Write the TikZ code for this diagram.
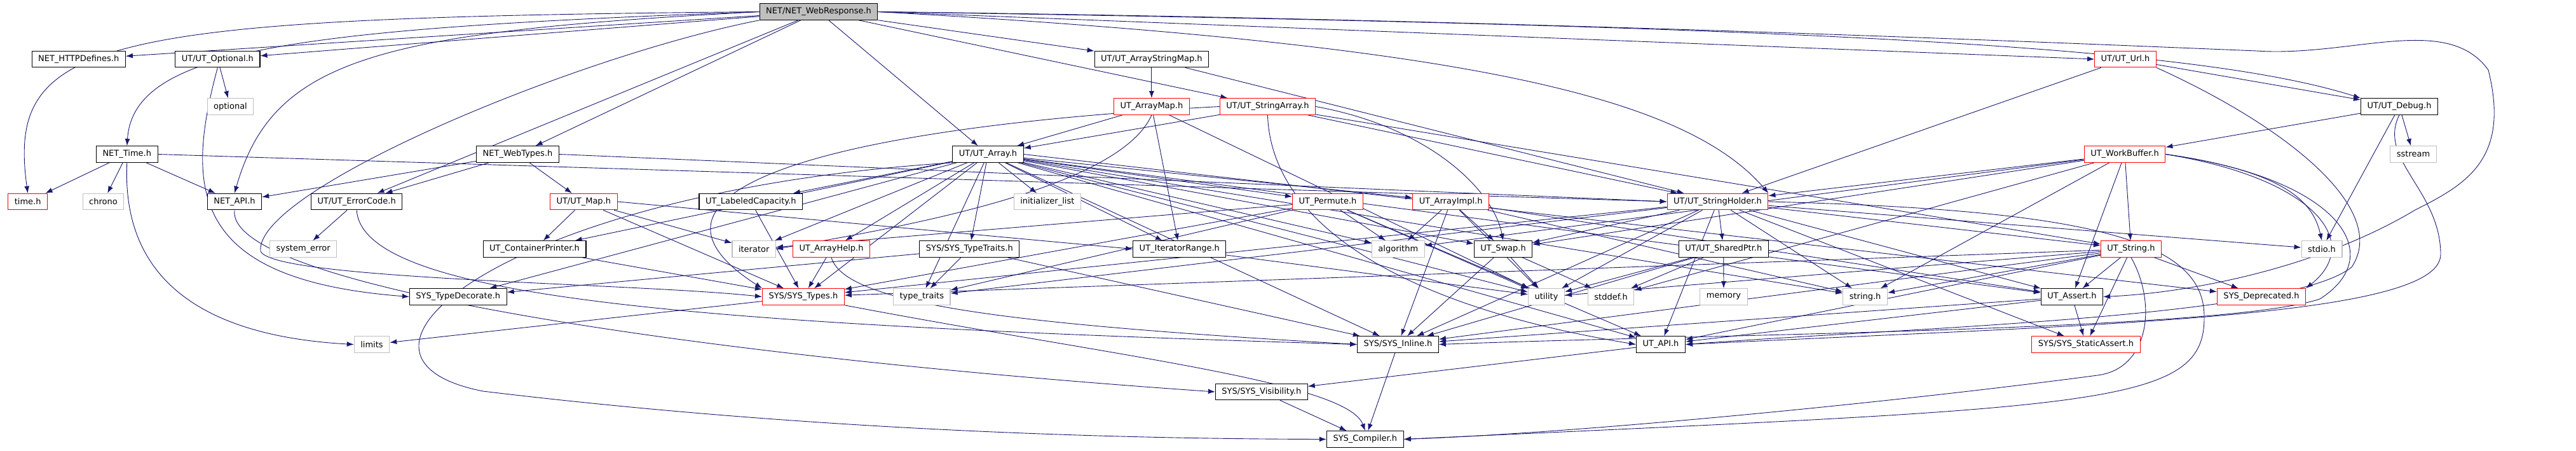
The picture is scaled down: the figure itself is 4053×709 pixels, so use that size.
\documentclass[tikz,border=0pt]{standalone}
\usepackage{fontspec}
\setmainfont{DejaVu Sans}
\usetikzlibrary{arrows.meta, backgrounds}
\definecolor{edgeblue}{HTML}{191970}
\definecolor{truncred}{HTML}{FF0000}
\definecolor{sysgray}{HTML}{BFBFBF}

\begin{document}
\begin{tikzpicture}[x=1pt, y=-1pt,
  hdr/.style={draw=black, line width=1.1pt, fill=white, inner xsep=10pt, inner ysep=0pt,
              minimum height=25.5pt, font=\fontsize{13}{15}\selectfont},
  trunc/.style={hdr, draw=truncred},
  sysh/.style={hdr, draw=sysgray},
  rootbox/.style={hdr, fill=sysgray},
  dep/.style={->, line width=0.9pt, draw=edgeblue, >={Latex[length=11pt,width=8pt]}}]
\useasboundingbox (0,0) rectangle (4053,709);
% headers, row by row
\node[rootbox] (root) at (1288,18.5) {NET/NET\_WebResponse.h};
\node[hdr] (http) at (123.7,93) {NET\_HTTPDefines.h};
\node[hdr] (opt) at (342.4,93) {UT/UT\_Optional.h};
\node[hdr] (asmap) at (1811.9,93) {UT/UT\_ArrayStringMap.h};
\node[trunc] (url) at (3344,93) {UT/UT\_Url.h};
\node[sysh] (optional) at (362.5,167.5) {optional};
\node[trunc] (amap) at (1811.9,167.5) {UT\_ArrayMap.h};
\node[trunc] (sarr) at (1994.4,167.5) {UT/UT\_StringArray.h};
\node[hdr] (debug) at (3775,167.5) {UT/UT\_Debug.h};
\node[hdr] (nettime) at (199.8,242.5) {NET\_Time.h};
\node[hdr] (webtypes) at (814.5,242.5) {NET\_WebTypes.h};
\node[hdr] (array) at (1554.5,242.5) {UT/UT\_Array.h};
\node[trunc] (wbuf) at (3343,242.5) {UT\_WorkBuffer.h};
\node[sysh] (sstream) at (3797,242.5) {sstream};
\node[trunc] (timeh) at (43.7,317) {time.h};
\node[sysh] (chrono) at (162.5,317) {chrono};
\node[hdr] (netapi) at (369,317) {NET\_API.h};
\node[hdr] (errcode) at (561.2,317) {UT/UT\_ErrorCode.h};
\node[trunc] (map) at (918.3,317) {UT/UT\_Map.h};
\node[hdr] (labcap) at (1181.3,317) {UT\_LabeledCapacity.h};
\node[sysh] (initl) at (1647.8,317) {initializer\_list};
\node[trunc] (permute) at (2089,317) {UT\_Permute.h};
\node[trunc] (aimpl) at (2282.6,317) {UT\_ArrayImpl.h};
\node[trunc] (sholder) at (2702.5,317) {UT/UT\_StringHolder.h};
\node[sysh] (syserr) at (477.2,391.5) {system\_error};
\node[hdr] (cprint) at (841,391.5) {UT\_ContainerPrinter.h};
\node[sysh] (iter) at (1186.2,391.5) {iterator};
\node[trunc] (ahelp) at (1308,391.5) {UT\_ArrayHelp.h};
\node[hdr] (ttraits) at (1525.3,391.5) {SYS/SYS\_TypeTraits.h};
\node[hdr] (itrange) at (1855.8,391.5) {UT\_IteratorRange.h};
\node[sysh] (algo) at (2199.8,391.5) {algorithm};
\node[hdr] (swap) at (2365,391.5) {UT\_Swap.h};
\node[hdr] (sptr) at (2711.8,391.5) {UT/UT\_SharedPtr.h};
\node[trunc] (ustring) at (3353,391.5) {UT\_String.h};
\node[sysh] (stdio) at (3653,391.5) {stdio.h};
\node[hdr] (tdecor) at (720.8,466.5) {SYS\_TypeDecorate.h};
\node[trunc] (systypes) at (1263.9,466.5) {SYS/SYS\_Types.h};
\node[sysh] (typetr) at (1450.3,466.5) {type\_traits};
\node[sysh] (utility) at (2433,466.5) {utility};
\node[sysh] (stddef) at (2534.6,466.5) {stddef.h};
\node[sysh] (memory) at (2712,466.5) {memory};
\node[sysh] (stringh) at (2934.6,466.5) {string.h};
\node[hdr] (assert) at (3260,466.5) {UT\_Assert.h};
\node[trunc] (deprec) at (3558,466.5) {SYS\_Deprecated.h};
\node[sysh] (limits) at (585,541.5) {limits};
\node[hdr] (inline) at (2199.5,541.5) {SYS/SYS\_Inline.h};
\node[hdr] (api) at (2613,541.5) {UT\_API.h};
\node[trunc] (sassert) at (3282,541.5) {SYS/SYS\_StaticAssert.h};
\node[hdr] (visib) at (1984.8,616) {SYS/SYS\_Visibility.h};
\node[hdr] (compiler) at (2147.8,690.5) {SYS\_Compiler.h};
% includes
\begin{scope}[on background layer]
\draw[dep] (root.west) .. controls (150,28) and (10,60) .. (timeh.north);
\draw[dep] (root) -- (http);
\draw[dep] (root) -- (opt);
\draw[dep] (root.west) .. controls (450,45) and (210,80) .. (nettime.north);
\draw[dep] (root.west) .. controls (600,50) and (430,90) .. (netapi.north);
\draw[dep] (root) -- (errcode);
\draw[dep] (root) -- (webtypes);
\draw[dep] (root) -- (array);
\draw[dep] (root) -- (asmap);
\draw[dep] (root) -- (sarr);
\draw[dep] (root.east) .. controls (2300,70) and (2650,150) .. (sholder.north east);
\draw[dep] (root.east) -- (url.west);
\draw[dep] (root.east) .. controls (2800,40) and (3450,70) .. (debug.north west);
\draw[dep] (root.east) .. controls (2400,30) and (3300,70) .. (3550,80) .. controls (3700,90) and (3850,20) .. (3915,110) .. controls (3950,250) and (3880,290) .. (3800,330) .. controls (3650,420) and (3450,460) .. (assert.east);
\draw[dep] (root.south west) .. controls (900,90) and (400,300) .. (410,395) .. controls (430,440) and (1000,445) .. (systypes.west);
\draw[dep] (opt) -- (optional);
\draw[dep] (opt.south) .. controls (290,300) and (300,440) .. (tdecor.west);
\draw[dep] (nettime) -- (timeh);
\draw[dep] (nettime) -- (chrono);
\draw[dep] (nettime) -- (netapi);
\draw[dep] (nettime.south) .. controls (190,460) and (350,530) .. (limits.west);
\draw[dep] (nettime.east) -- (sholder.west);
\draw[dep] (webtypes) -- (netapi);
\draw[dep] (webtypes) -- (errcode);
\draw[dep] (webtypes) -- (map);
\draw[dep] (webtypes.east) -- (sholder.west);
\draw[dep] (errcode) -- (syserr);
\draw[dep] (errcode.south) .. controls (570,470) and (1100,510) .. (inline.west);
\draw[dep] (netapi.south) .. controls (355,450) and (1100,560) .. (visib.west);
\draw[dep] (map) -- (cprint);
\draw[dep] (map) -- (systypes);
\draw[dep] (map) -- (iter);
\draw[dep] (map.east) -- (itrange.west);
\draw[dep] (labcap) -- (systypes);
\draw[dep] (asmap) -- (amap);
\draw[dep] (asmap) -- (sholder);
\draw[dep] (amap) -- (array);
\draw[dep] (amap.south) .. controls (1760,300) and (1400,360) .. (iter.east);
\draw[dep] (amap) -- (itrange);
\draw[dep] (amap) -- (utility);
\draw[dep] (sarr) -- (array);
\draw[dep] (sarr.west) .. controls (1300,200) and (960,300) .. (systypes.north west);
\draw[dep] (sarr.south) .. controls (2000,350) and (2200,480) .. (api.west);
\draw[dep] (sarr.east) .. controls (2250,200) and (2350,300) .. (swap.north);
\draw[dep] (sarr) -- (sholder);
\draw[dep] (sarr) -- (ustring);
\draw[dep] (array) -- (tdecor);
\draw[dep] (array) -- (cprint);
\draw[dep] (array) -- (labcap);
\draw[dep] (array) -- (iter);
\draw[dep] (array) -- (ahelp);
\draw[dep] (array) -- (ttraits);
\draw[dep] (array) -- (typetr);
\draw[dep] (array) -- (initl);
\draw[dep] (array) -- (itrange);
\draw[dep] (array) -- (permute);
\draw[dep] (array) -- (aimpl);
\draw[dep] (array) -- (algo);
\draw[dep] (array) -- (swap);
\draw[dep] (array) -- (utility);
\draw[dep] (array) -- (stringh);
\draw[dep] (array) -- (assert);
\draw[dep] (array) -- (api);
\draw[dep] (array) -- (inline);
\draw[dep] (array) -- (systypes);
\draw[dep] (array.east) -- (deprec);
\draw[dep] (array.south west) .. controls (800,300) and (480,560) .. (760,615) .. controls (1300,680) and (1800,690) .. (compiler.west);
\draw[dep] (cprint) -- (systypes);
\draw[dep] (ahelp) -- (systypes);
\draw[dep] (ahelp.south) .. controls (1330,480) and (1600,510) .. (inline.west);
\draw[dep] (ttraits) -- (typetr);
\draw[dep] (ttraits) -- (tdecor);
\draw[dep] (ttraits) -- (inline);
\draw[dep] (itrange) -- (utility);
\draw[dep] (permute) -- (algo);
\draw[dep] (permute) -- (utility);
\draw[dep] (permute) -- (typetr);
\draw[dep] (permute) -- (systypes);
\draw[dep] (permute) -- (iter);
\draw[dep] (permute) -- (api);
\draw[dep] (aimpl) -- (algo);
\draw[dep] (aimpl) -- (swap);
\draw[dep] (aimpl) -- (utility);
\draw[dep] (aimpl) -- (stringh);
\draw[dep] (aimpl) -- (assert);
\draw[dep] (aimpl) -- (inline);
\draw[dep] (swap) -- (inline);
\draw[dep] (swap) -- (utility);
\draw[dep] (swap) -- (stddef);
\draw[dep] (sholder) -- (swap);
\draw[dep] (sholder) -- (utility);
\draw[dep] (sholder) -- (sptr);
\draw[dep] (sholder) -- (ustring);
\draw[dep] (sholder) -- (assert);
\draw[dep] (sholder) -- (api);
\draw[dep] (sholder) -- (inline);
\draw[dep] (sholder) -- (stringh);
\draw[dep] (sholder) -- (systypes);
\draw[dep] (sholder) -- (typetr);
\draw[dep] (sholder) -- (stdio);
\draw[dep] (sholder) -- (sassert);
\draw[dep] (sholder.east) .. controls (3300,330) and (3470,380) .. (3468,500) .. controls (3468,640) and (3300,640) .. (compiler.east);
\draw[dep] (sptr) -- (memory);
\draw[dep] (sptr) -- (utility);
\draw[dep] (sptr) -- (stddef);
\draw[dep] (sptr) -- (inline);
\draw[dep] (ustring) -- (assert);
\draw[dep] (ustring) -- (api);
\draw[dep] (ustring) -- (inline);
\draw[dep] (ustring) -- (stringh);
\draw[dep] (ustring) -- (deprec);
\draw[dep] (ustring) -- (sassert);
\draw[dep] (ustring) -- (systypes);
\draw[dep] (ustring) -- (utility);
\draw[dep] (ustring.south) .. controls (3395,480) and (3380,580) .. (3300,590) .. controls (3000,630) and (2500,680) .. (compiler.east);
\draw[dep] (wbuf) -- (ustring);
\draw[dep] (wbuf) -- (sholder);
\draw[dep] (wbuf.east) .. controls (3600,270) and (3640,320) .. (stdio.north);
\draw[dep] (wbuf.east) .. controls (3640,280) and (3720,380) .. (deprec.north east);
\draw[dep] (wbuf.east) .. controls (3680,280) and (3760,400) .. (3650,470) .. controls (3500,520) and (2700,525) .. (inline.east);
\draw[dep] (wbuf) -- (assert);
\draw[dep] (wbuf) -- (stringh);
\draw[dep] (wbuf) -- (stddef);
\draw[dep] (wbuf) -- (swap);
\draw[dep] (wbuf) -- (algo);
\draw[dep] (url) -- (debug);
\draw[dep] (url) -- (sholder);
\draw[dep] (url.south east) .. controls (3600,200) and (3760,330) .. (3700,420) .. controls (3600,500) and (3000,515) .. (api.east);
\draw[dep] (debug) -- (wbuf);
\draw[dep] (debug) -- (sstream);
\draw[dep] (debug) -- (stdio);
\draw[dep] (debug.south) .. controls (3740,250) and (3840,300) .. (3840,400) .. controls (3840,500) and (3300,510) .. (api.east);
\draw[dep] (systypes) -- (limits);
\draw[dep] (systypes.south east) .. controls (1750,560) and (2120,600) .. (compiler.north);
\draw[dep] (assert) -- (sassert);
\draw[dep] (assert) -- (api);
\draw[dep] (assert) -- (inline);
\draw[dep] (api) -- (visib);
\draw[dep] (visib) -- (compiler);
\draw[dep] (inline) -- (compiler);
\end{scope}
\end{tikzpicture}
\end{document}
